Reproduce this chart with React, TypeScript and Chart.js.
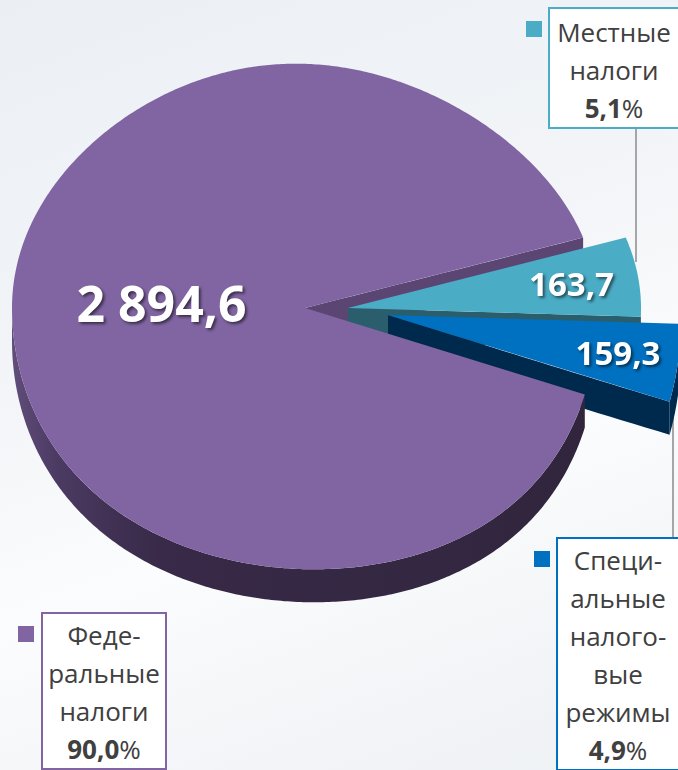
import React, { useEffect, useRef } from "react";
import { Chart, registerables } from "chart.js";

Chart.register(...registerables);

// ---- data ----
const CATEGORIES = ["Федеральные налоги", "Местные налоги", "Специальные налоговые режимы"];
const VALUES = [2894.6, 163.7, 159.3];
const SHARE_LABELS = ["90,0", "5,1", "4,9"];
const CALLOUT_LINES = [
  ["Феде-", "ральные", "налоги"],
  ["Местные", "налоги"],
  ["Специ-", "альные", "налого-", "вые", "режимы"],
];

// ---- style ----
const TOP_COLORS = ["#8165a3", "#4bacc6", "#0070c0"];
const RADIAL_COLORS = ["#5b4673", "#2b5e6c", "#002a4d"];
const BAND_COLORS = ["purple-gradient", "#2b5e6c", "#002a4d"];
const OFFSET_X = [-10, 33, 73]; // explosion, px
const OFFSET_Y = [-1, -1, 6];
const LABEL_RADIUS = [0.49, 0.77, 0.795];
const LABEL_SIZE = [50, 33, 33];
const DEPTH = 33;
const SQUASH = 0.863;
const BULGE = 8.5; // perspective: near half slightly taller
const PERSP = 0.1; // perspective: near half wider
const SHEAR = 0.035; // slight tilt
const RADIUS = 293;
const ROTATION = 109.8;
const TEXT_COLOR = "#404040";
const FONT = "'Open Sans', 'Noto Sans', sans-serif";

function fmt(v: number): string {
  const [i, d] = v.toFixed(1).split(".");
  return i.replace(/\B(?=(\d{3})+(?!\d))/g, " ") + "," + d;
}

type Geo = { cx: number; cy: number; ou: number; ov: number; r: number; a0: number; a1: number; mid: number };

function getGeo(chart: any): Geo[] {
  const meta = chart.getDatasetMeta(0);
  return meta.data.map((el: any, i: number) => {
    const p = el.getProps(["x", "y", "startAngle", "endAngle", "outerRadius"], true);
    return {
      cx: p.x,
      cy: p.y,
      ou: OFFSET_X[i],
      ov: OFFSET_Y[i] / SQUASH,
      r: p.outerRadius,
      a0: p.startAngle,
      a1: p.endAngle,
      mid: (p.startAngle + p.endAngle) / 2,
    };
  });
}

// map pie-plane coordinates (u, v, relative to pie centre) to screen
function proj(g: Geo, u: number, v: number): [number, number] {
  const vn = v / g.r;
  const q = vn * Math.abs(vn);
  const x = g.cx + u * (1 + PERSP * q) + SHEAR * g.r * q;
  const y = g.cy + g.r * SQUASH * vn + BULGE * vn * vn;
  return [x, y];
}

function arcPts(g: Geo, s: number, e: number, dz: number): [number, number][] {
  const n = Math.max(2, Math.ceil(Math.abs(e - s) / 0.01));
  const pts: [number, number][] = [];
  for (let k = 0; k <= n; k++) {
    const t = s + ((e - s) * k) / n;
    const [x, y] = proj(g, g.ou + g.r * Math.cos(t), g.ov + g.r * Math.sin(t));
    pts.push([x, y + dz]);
  }
  return pts;
}

function edgePts(g: Geo, a: number, dz: number): [number, number][] {
  const pts: [number, number][] = [];
  const n = 24;
  for (let k = 0; k <= n; k++) {
    const d = (g.r * k) / n;
    const [x, y] = proj(g, g.ou + d * Math.cos(a), g.ov + d * Math.sin(a));
    pts.push([x, y + dz]);
  }
  return pts;
}

function fillPoly(ctx: CanvasRenderingContext2D, pts: [number, number][], fill: any) {
  ctx.beginPath();
  pts.forEach(([x, y], i) => (i === 0 ? ctx.moveTo(x, y) : ctx.lineTo(x, y)));
  ctx.closePath();
  ctx.fillStyle = fill;
  ctx.fill();
}

function visibleRanges(a0: number, a1: number): [number, number][] {
  const out: [number, number][] = [];
  for (let k = -1; k <= 2; k++) {
    const lo = Math.max(a0, 2 * Math.PI * k);
    const hi = Math.min(a1, 2 * Math.PI * k + Math.PI);
    if (hi > lo) out.push([lo, hi]);
  }
  return out;
}

function drawBand(ctx: CanvasRenderingContext2D, g: Geo, fill: any) {
  for (const [s, e] of visibleRanges(g.a0, g.a1)) {
    const top = arcPts(g, s, e, 0);
    const bottom = arcPts(g, s, e, DEPTH).reverse();
    fillPoly(ctx, top.concat(bottom), fill);
  }
}

function drawRadial(ctx: CanvasRenderingContext2D, g: Geo, fill: string) {
  const edges: number[] = [];
  if (Math.cos(g.a1) > 0) edges.push(g.a1);
  if (Math.cos(g.a0) < 0) edges.push(g.a0);
  for (const a of edges) {
    const top = edgePts(g, a, 0);
    const bottom = edgePts(g, a, DEPTH).reverse();
    fillPoly(ctx, top.concat(bottom), fill);
  }
}

const pie3d = {
  id: "pie3d",
  beforeDatasetsDraw(chart: any) {
    const ctx: CanvasRenderingContext2D = chart.ctx;
    const geo = getGeo(chart);
    const grad = ctx.createLinearGradient(10, 0, 600, 0);
    grad.addColorStop(0, "#614e7b");
    grad.addColorStop(0.08, "#4b3a62");
    grad.addColorStop(0.25, "#382a48");
    grad.addColorStop(1, "#31253d");
    const bandFill = (i: number) => (BAND_COLORS[i] === "purple-gradient" ? grad : BAND_COLORS[i]);
    ctx.save();
    // side walls, back to front
    drawRadial(ctx, geo[0], RADIAL_COLORS[0]);
    drawBand(ctx, geo[1], bandFill(1));
    drawRadial(ctx, geo[1], RADIAL_COLORS[1]);
    drawBand(ctx, geo[2], bandFill(2));
    drawRadial(ctx, geo[2], RADIAL_COLORS[2]);
    drawBand(ctx, geo[0], bandFill(0));
    // top faces
    geo.forEach((g, i) => {
      const apex = proj(g, g.ou, g.ov);
      fillPoly(ctx, [apex, ...arcPts(g, g.a0, g.a1, 0)], TOP_COLORS[i]);
    });
    ctx.restore();
    return false;
  },
  afterDraw(chart: any) {
    const ctx: CanvasRenderingContext2D = chart.ctx;
    const geo = getGeo(chart);
    ctx.save();
    geo.forEach((g, i) => {
      const d = g.r * LABEL_RADIUS[i];
      const [x, y] = proj(g, g.ou + Math.cos(g.mid) * d, g.ov + Math.sin(g.mid) * d);
      const size = LABEL_SIZE[i];
      ctx.font = `bold ${size}px ${FONT}`;
      ctx.textAlign = "center";
      ctx.textBaseline = "alphabetic";
      ctx.shadowColor = "rgba(0,0,0,0.55)";
      ctx.shadowOffsetX = 2;
      ctx.shadowOffsetY = 2;
      ctx.shadowBlur = 3;
      ctx.fillStyle = "#ffffff";
      ctx.fillText(fmt(VALUES[i]), x, y + size * 0.357);
    });
    ctx.restore();
  },
};

const CALLOUTS = [
  { idx: 0, left: 41, top: 612, width: 126, padTop: 2, mx: 18, my: 626 },
  { idx: 1, left: 548, top: 7, width: 132, padTop: 4, mx: 526, my: 21 },
  { idx: 2, left: 556, top: 537, width: 124, padTop: 2, mx: 534, my: 551 },
];

const LEADERS = [
  { x: 635, y1: 128, y2: 262 },
  { x: 672, y1: 395, y2: 537 },
];

export default function App() {
  const ref = useRef<HTMLCanvasElement | null>(null);

  useEffect(() => {
    document.body.style.margin = "0";
    if (!ref.current) return;
    const chart = new Chart(ref.current, {
      type: "pie",
      data: {
        labels: CATEGORIES,
        datasets: [{ data: VALUES, backgroundColor: TOP_COLORS, borderWidth: 0 }],
      },
      options: {
        animation: false,
        responsive: false,
        events: [],
        rotation: ROTATION,
        radius: RADIUS,
        layout: { padding: { left: 0, top: 0, right: 48, bottom: 152 } },
        plugins: { legend: { display: false }, tooltip: { enabled: false } },
      } as any,
      plugins: [pie3d as any],
    });
    return () => chart.destroy();
  }, []);

  return (
    <div
      style={{
        position: "absolute",
        left: 0,
        top: 0,
        width: 678,
        height: 770,
        overflow: "hidden",
        background:
          "linear-gradient(160deg, #ebeff4 0%, #f3f5f8 40%, #fbfcfd 62%, #f2f4f7 85%, #eef1f5 100%)",
        fontFamily: FONT,
      }}
    >
      {LEADERS.map((l, i) => (
        <div
          key={"l" + i}
          style={{
            position: "absolute",
            left: l.x,
            top: l.y1,
            width: 1.5,
            height: l.y2 - l.y1,
            background: "#a6a6a6",
          }}
        />
      ))}
      <canvas
        ref={ref}
        width={678}
        height={770}
        style={{ position: "absolute", left: 0, top: 0, width: 678, height: 770 }}
      />
      {CALLOUTS.map((c) => (
        <React.Fragment key={c.idx}>
          <div
            style={{
              position: "absolute",
              left: c.mx,
              top: c.my,
              width: 16,
              height: 16,
              background: TOP_COLORS[c.idx],
            }}
          />
          <div
            style={{
              position: "absolute",
              left: c.left,
              top: c.top,
              width: c.width,
              boxSizing: "border-box",
              border: `2px solid ${TOP_COLORS[c.idx]}`,
              background: "#ffffff",
              color: TEXT_COLOR,
              fontSize: 26,
              lineHeight: "38px",
              textAlign: "center",
              paddingTop: c.padTop,
              paddingBottom: 0,
              whiteSpace: "nowrap",
            }}
          >
            {CALLOUT_LINES[c.idx].map((t, j) => (
              <div key={j}>{t}</div>
            ))}
            <div>
              <b>{SHARE_LABELS[c.idx]}</b>%
            </div>
          </div>
        </React.Fragment>
      ))}
    </div>
  );
}
